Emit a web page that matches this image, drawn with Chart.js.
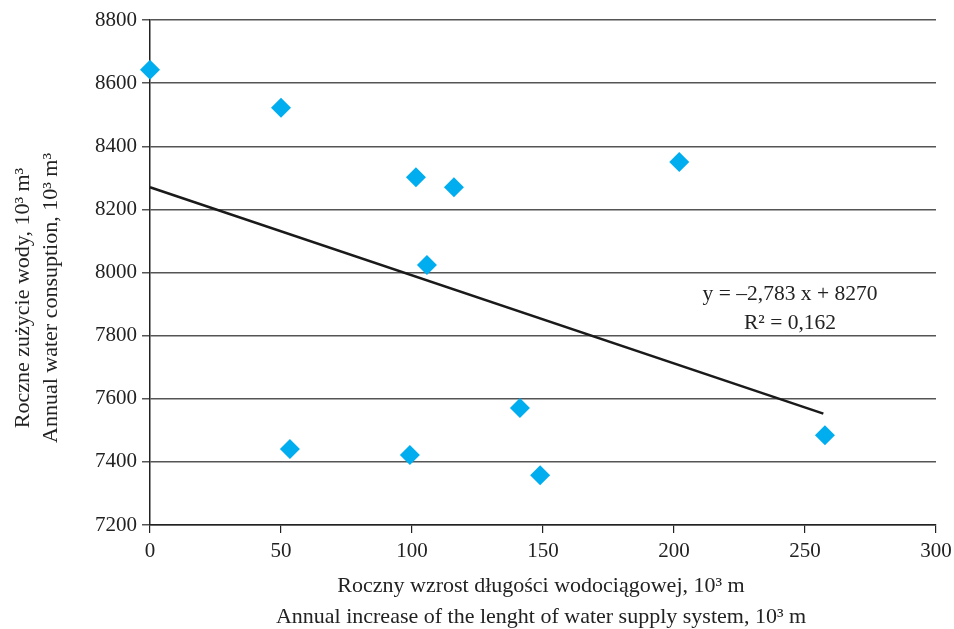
<!DOCTYPE html>
<html>
<head>
<meta charset="utf-8">
<script src="https://cdn.jsdelivr.net/npm/chart.js@4"></script>
<style>
html,body{margin:0;padding:0;background:#fff;}
#wrap{width:954px;height:629px;}
</style>
</head>
<body>
<div id="wrap"><canvas id="c" width="954" height="629"></canvas></div>
<script>
// Data
const increaseX = [0, 50, 101.5, 116, 105.7, 202, 141.2, 53.4, 99.2, 148.9, 257.6];
const consumptionY = [8642, 8522, 8302, 8270, 8024, 8350, 7571, 7441, 7422, 7358, 7484];
const trendX = [0, 257];
const trendY = [8270, 7553];
const yTicks = [7200, 7400, 7600, 7800, 8000, 8200, 8400, 8600, 8800];
const xTicks = [0, 50, 100, 150, 200, 250, 300];
const equationLines = ["y = \u20132,783 x + 8270", "R\u00B2 = 0,162"];
const xTitle = ["Roczny wzrost d\u0142ugo\u015Bci wodoci\u0105gowej, 10\u00B3 m", "Annual increase of the lenght of water supply system, 10\u00B3 m"];
const yTitle = ["Roczne zu\u017Cycie wody, 10\u00B3 m\u00B3", "Annual water consuption, 10\u00B3 m\u00B3"];

const FONT = "'Liberation Serif', 'Times New Roman', serif";

const titlesPlugin = {
  id: 'titles',
  afterDraw(chart) {
    const ctx = chart.ctx;
    const ca = chart.chartArea;
    ctx.save();
    ctx.fillStyle = '#222';
    ctx.font = "22px " + FONT;
    ctx.textAlign = 'center';
    ctx.textBaseline = 'middle';
    // x title
    const cx = (ca.left + ca.right) / 2;
    ctx.fillText(xTitle[0], cx - 2, 586);
    ctx.fillText(xTitle[1], cx - 2, 617);
    // y title
    ctx.save();
    ctx.translate(23, 298);
    ctx.rotate(-Math.PI / 2);
    ctx.fillText(yTitle[0], 0, 0);
    ctx.fillText(yTitle[1], 0, 28);
    ctx.restore();
    // equation
    ctx.font = "21.5px " + FONT;
    ctx.fillText(equationLines[0], 790, 294);
    ctx.fillText(equationLines[1], 790, 323);
    ctx.restore();
  }
};

new Chart(document.getElementById('c'), {
  type: 'scatter',
  data: {
    datasets: [
      {
        label: 'data',
        data: increaseX.map((x, i) => ({x: x, y: consumptionY[i]})),
        pointStyle: 'rectRot',
        pointRadius: 10,
        pointHoverRadius: 10,
        backgroundColor: '#00AEEF',
        borderColor: '#00AEEF',
        borderWidth: 0,
        clip: false,
        order: 1
      },
      {
        label: 'trend',
        type: 'line',
        data: trendX.map((x, i) => ({x: x, y: trendY[i]})),
        borderColor: '#1a1a1a',
        borderWidth: 2.5,
        pointRadius: 0,
        fill: false,
        clip: false,
        order: 2
      }
    ]
  },
  options: {
    responsive: false,
    animation: false,
    events: [],
    layout: {padding: {top: 20, right: 0, left: 0, bottom: 0}},
    plugins: {legend: {display: false}, tooltip: {enabled: false}},
    scales: {
      x: {
        type: 'linear',
        min: 0, max: 300,
        afterBuildTicks(scale) { scale.ticks = xTicks.map(v => ({value: v})); },
        afterFit(scale) { scale.height = 104; scale.paddingRight = 18; },
        ticks: {color: '#222', font: {family: FONT, size: 21}, padding: 6, maxRotation: 0,
                callback: v => String(v)},
        grid: {drawOnChartArea: false, drawTicks: true, tickLength: 8, color: '#222', lineWidth: 1.2},
        border: {display: true, color: '#222', width: 1.5}
      },
      y: {
        type: 'linear',
        min: 7200, max: 8800,
        afterBuildTicks(scale) { scale.ticks = yTicks.map(v => ({value: v})); },
        afterFit(scale) { scale.width = 150; },
        ticks: {color: '#222', font: {family: FONT, size: 21}, padding: 5,
                callback: v => String(v)},
        grid: {color: '#555', lineWidth: 1.5, tickLength: 8, drawTicks: true},
        border: {display: true, color: '#222', width: 1.5}
      }
    }
  },
  plugins: [titlesPlugin]
});
</script>
</body>
</html>
